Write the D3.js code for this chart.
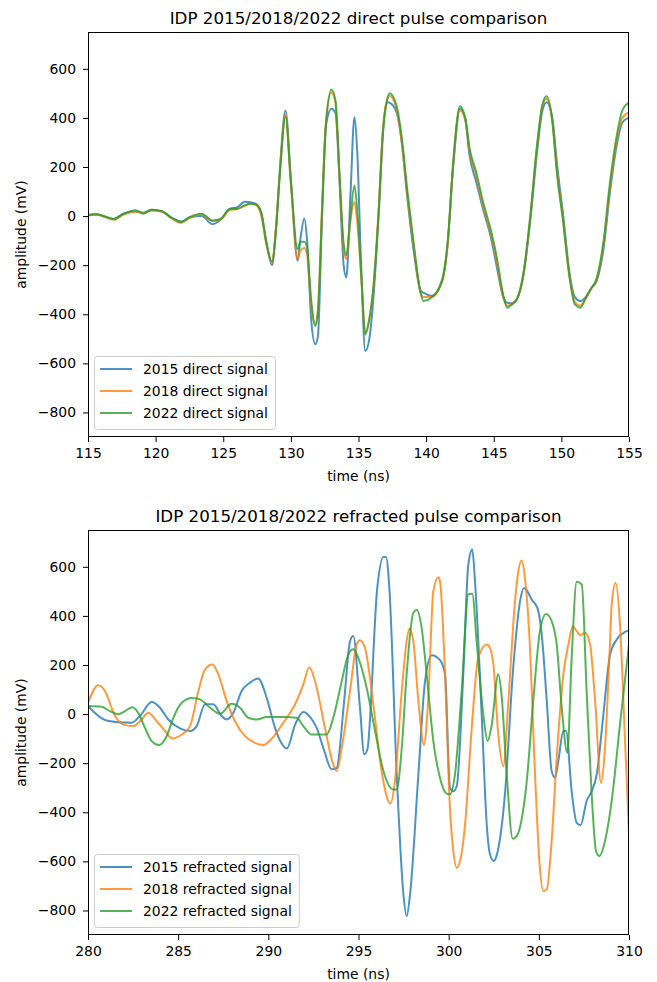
<!DOCTYPE html>
<html>
<head>
<meta charset="utf-8">
<script src="https://cdn.jsdelivr.net/npm/d3@7"></script>
<style>
  body { margin: 0; background: #fff; }
  text { font-family: "DejaVu Sans", sans-serif; fill: #000; }
</style>
</head>
<body>
<svg id="chart" width="657" height="982"></svg>
<script>
"use strict";

// ---- direct pulse (top panel), shared time base ----
var directTime = [115.0, 115.6, 116.2, 116.9, 117.6, 118.5, 119.1, 119.7, 120.5, 121.1, 121.9, 122.5, 123.4, 124.2, 124.8,
  125.5, 126.0, 126.6, 127.0, 127.4, 127.8, 128.2, 128.6, 128.9, 129.2, 129.6, 130.0, 130.5, 130.7, 131.0, 131.2, 131.5,
  131.8, 132.0, 132.3, 132.6, 133.0, 133.3, 133.6, 133.9, 134.1, 134.4, 134.7, 134.9, 135.2, 135.5, 135.8, 136.1, 136.5,
  136.8, 137.1, 137.3, 137.8, 138.2, 138.6, 139.1, 139.6, 139.8, 140.4, 141.2, 141.6, 142.0, 142.5, 142.9, 143.2, 143.7,
  144.2, 144.8, 145.2, 145.7, 146.0, 146.3, 146.7, 147.2, 147.7, 148.2, 148.6, 148.9, 149.3, 149.7, 150.1, 150.6, 151.0,
  151.4, 151.8, 152.2, 152.6, 153.1, 153.6, 154.1, 154.5, 155.0];

var direct2015 = [3, 8, -2, -12, 10, 20, 14, 26, 18, -4, -22, -6, 0, -33, -15,
  30, 35, 58, 56, 50, 15, -110, -200, -50, 200, 430, 150, -182, -95, -10, -100, -420,
  -522, -490, -5, 370, 437, 420, 140, -200, -250, 80, 403, 270, -210, -550, -500, -335, 20,
  340, 464, 462, 425, 300, 80, -150, -305, -312, -325, -262, -110, 200, 437, 390, 250, 140,
  30, -90, -200, -330, -353, -355, -338, -240, -20, 260, 430, 464, 410, 200, 20, -230, -330,
  -346, -330, -295, -265, -140, 100, 290, 380, 402];

var direct2018 = [2, 5, -3, -15, 5, 18, 12, 22, 18, -6, -28, -8, 6, -20, -14,
  25, 28, 42, 50, 46, 5, -120, -190, -40, 190, 415, 130, -175, -140, -130, -160, -360,
  -440, -380, 30, 390, 505, 460, 150, -130, -175, -20, 57, -20, -250, -475, -420, -290, 40,
  350, 470, 490, 440, 300, 90, -130, -315, -330, -330, -262, -110, 210, 430, 395, 270, 165,
  45, -75, -180, -330, -365, -360, -340, -235, -5, 280, 450, 478, 400, 170, 0, -240, -350,
  -365, -335, -295, -260, -120, 120, 310, 400, 423];

var direct2022 = [5, 8, 0, -12, 8, 24, 10, 26, 20, -4, -24, -4, 10, -18, -12,
  29, 29, 44, 50, 48, 15, -110, -185, -60, 180, 405, 140, -135, -105, -105, -130, -340,
  -448, -390, 10, 380, 516, 470, 170, -110, -160, -5, 125, 30, -230, -482, -420, -290, 20,
  330, 470, 500, 452, 320, 110, -120, -315, -346, -332, -255, -100, 220, 448, 400, 280, 180,
  60, -60, -160, -320, -373, -362, -340, -230, 0, 290, 455, 488, 400, 160, -10, -250, -360,
  -373, -335, -295, -255, -110, 140, 330, 430, 462];

// ---- refracted pulse (bottom panel) ----
var refr2015Time = [280.00, 280.94, 281.68, 282.42, 282.88, 283.53, 283.99, 284.45, 285.10, 285.66, 286.03, 286.49,
  286.95, 287.41, 287.69, 288.06, 288.52, 288.98, 289.44, 289.91, 290.37, 290.70, 291.02, 291.50, 291.94, 292.30,
  292.68, 293.10, 293.51, 293.79, 294.20, 294.53, 294.71, 295.08, 295.32, 295.49, 296.04, 296.38, 296.53, 296.71,
  297.12, 297.49, 297.67, 297.86, 298.32, 298.69, 299.06, 299.52, 299.80, 300.07, 300.26, 300.45, 300.81, 301.09,
  301.31, 301.46, 301.83, 302.11, 302.29, 302.51, 302.70, 303.12, 303.58, 303.96, 304.18, 304.36, 304.60, 304.92,
  305.16, 305.44, 305.71, 305.90, 306.08, 306.36, 306.51, 306.82, 307.10, 307.32, 307.65, 307.93, 308.21, 308.58,
  308.95, 309.32, 309.78, 310.02];
var refr2015 = [33, -24, -33, -35, -8, 49, 26, -22, -58, -69, -49, 40,
  40, -8, -22, 5, 94, 128, 145, 66, -56, -115, -140, -40, 9, -10,
  -56, -150, -225, -219, 50, 297, 318, 26, -164, -144, 514, 640, 640, 514,
  -246, -734, -823, -734, -246, 134, 240, 220, 162, -300, -314, -293, 162, 610,
  671, 542, -1, -449, -571, -599, -565, -327, 189, 460, 514, 501, 467, 433,
  325, 53, -232, -259, -191, -69, -69, -314, -443, -452, -354, -314, -246, -1,
  243, 304, 335, 341];

var refr2018Time = [280.00, 280.57, 280.94, 281.50, 282.05, 282.51, 282.98, 283.34, 283.81, 284.27, 284.67, 285.20,
  285.66, 286.12, 286.49, 286.89, 287.23, 287.69, 288.15, 288.71, 289.26, 289.72, 290.19, 290.83, 291.48, 291.94,
  292.27, 292.59, 293.14, 293.60, 293.79, 294.07, 294.53, 294.90, 295.08, 295.36, 295.82, 296.28, 296.65, 296.78,
  297.02, 297.40, 297.67, 297.82, 298.04, 298.32, 298.63, 298.87, 299.15, 299.43, 299.52, 299.80, 300.07, 300.26,
  300.45, 300.63, 300.91, 301.28, 301.64, 302.11, 302.29, 302.48, 302.75, 303.03, 303.31, 303.68, 303.86, 304.05,
  304.23, 304.47, 304.79, 305.03, 305.25, 305.44, 305.71, 305.99, 306.36, 306.64, 306.88, 307.10, 307.28, 307.56,
  307.84, 308.11, 308.45, 308.67, 308.95, 309.04, 309.26, 309.50, 309.78, 310.02];
var refr2018 = [46, 118, 94, -8, -45, -49, -22, 5, -29, -69, -99, -83,
  -49, 94, 182, 202, 162, 53, -29, -90, -117, -126, -100, -35, 40, 121,
  191, 134, -56, -205, -232, -137, 94, 284, 301, 270, 40, -232, -354, -364,
  -273, 94, 297, 349, 297, 53, -126, 66, 501, 558, 542, 162, -382, -558,
  -626, -599, -449, -56, 229, 284, 270, 202, -83, -212, 53, 460, 582, 626,
  555, 325, -246, -599, -721, -714, -517, -178, 162, 284, 358, 338, 321, 331,
  284, 66, -280, -137, 297, 447, 535, 365, -110, -517];

var refr2022Time = [280.00, 280.76, 281.22, 281.68, 282.05, 282.46, 282.79, 283.16, 283.53, 283.94, 284.36, 284.73,
  285.20, 285.75, 286.21, 286.77, 287.32, 287.97, 288.43, 288.89, 289.36, 289.91, 290.89, 291.57, 291.94, 292.40,
  293.24, 293.60, 294.07, 294.44, 294.71, 294.99, 295.45, 295.92, 296.38, 296.93, 297.12, 297.40, 297.67, 298.04,
  298.23, 298.50, 298.78, 299.15, 299.52, 299.89, 300.07, 300.35, 300.72, 301.09, 301.31, 301.55, 301.92, 302.16,
  302.39, 302.75, 302.93, 303.22, 303.55, 303.77, 304.33, 304.69, 305.06, 305.40, 305.71, 305.99, 306.27, 306.58,
  306.82, 307.10, 307.38, 307.65, 307.93, 308.17, 308.36, 308.67, 309.04, 309.50, 310.02];
var refr2022 = [33, 30, 12, -1, 12, 28, 5, -56, -110, -126, -90, -15,
  46, 66, 60, 26, 1, 42, 26, -15, -22, -12, -12, -15, -49, -83,
  -83, -15, 134, 243, 264, 229, 107, -69, -232, -307, -307, -137, 162, 413,
  424, 352, 162, -110, -260, -324, -327, -246, 94, 488, 490, 297, -1, -110,
  -42, 162, 80, -246, -508, -497, -273, 53, 338, 408, 379, 284, 26, -158,
  229, 539, 528, 94, -327, -558, -578, -517, -354, -42, 297];

var yTicks = [-800, -600, -400, -200, 0, 200, 400, 600];
var directTicks = [115, 120, 125, 130, 135, 140, 145, 150, 155];
var refrTicks = [280, 285, 290, 295, 300, 305, 310];
var colors = ["#1f77b4", "#ff7f0e", "#2ca02c"];

function zip(t, v) {
  return t.map(function(d, i) { return {t: d, v: v[i]}; });
}

var svg = d3.select("#chart");
var margin = {left: 88, right: 28};
var width = 657 - margin.left - margin.right;

function drawPanel(p) {
  var height = p.bottom - p.top;
  var g = svg.append("g").attr("transform", "translate(" + margin.left + "," + p.top + ")");

  var x = d3.scaleLinear().domain(p.xDomain).range([0, width]);
  var y = d3.scaleLinear().domain([-900, 750]).range([height, 0]);

  g.append("clipPath").attr("id", p.id)
    .append("rect").attr("width", width).attr("height", height);

  var line = d3.line()
      .curve(d3.curveMonotoneX)
      .x(function(d) { return x(d.t); })
      .y(function(d) { return y(d.v); });

  var lines = g.append("g").attr("clip-path", "url(#" + p.id + ")");
  p.series.forEach(function(s, i) {
    lines.append("path")
        .datum(s.data)
        .attr("fill", "none")
        .attr("stroke", colors[i])
        .attr("stroke-opacity", 0.8)
        .attr("stroke-width", 2)
        .attr("stroke-linejoin", "round")
        .attr("d", line);
  });

  var xAxis = g.append("g")
      .attr("transform", "translate(0," + height + ")")
      .call(d3.axisBottom(x).tickValues(p.ticks).tickSizeInner(5).tickSizeOuter(0).tickPadding(6));
  var yAxis = g.append("g")
      .call(d3.axisLeft(y).tickValues(yTicks).tickSizeInner(5).tickSizeOuter(0).tickPadding(7));
  [xAxis, yAxis].forEach(function(a) {
    a.select(".domain").remove();
    a.selectAll("text").style("font-size", "13.9px").attr("fill", "#000");
    a.selectAll("line").attr("stroke", "#000").attr("stroke-width", 1);
  });

  g.append("rect")
      .attr("x", 0.5).attr("y", 0.5)
      .attr("width", width - 1).attr("height", height - 1)
      .attr("fill", "none").attr("stroke", "#000").attr("stroke-width", 1);

  g.append("text")
      .attr("x", width / 2).attr("y", -8.5)
      .attr("text-anchor", "middle")
      .style("font-size", "16.7px")
      .text(p.title);

  g.append("text")
      .attr("x", width / 2).attr("y", height + 44)
      .attr("text-anchor", "middle")
      .style("font-size", "13.9px")
      .text("time (ns)");

  g.append("text")
      .attr("transform", "translate(" + (26 - margin.left) + "," + (height / 2) + ") rotate(-90)")
      .attr("text-anchor", "middle")
      .style("font-size", "13.9px")
      .text("amplitude (mV)");

  // legend, lower left
  var leg = g.append("g").attr("transform", "translate(6," + (height - 81) + ")");
  var box = leg.append("rect")
      .attr("x", 0.5).attr("y", 0.5).attr("height", 73)
      .attr("rx", 3)
      .attr("fill", "#fff").attr("fill-opacity", 0.8)
      .attr("stroke", "#ccc").attr("stroke-width", 1);
  var maxW = 0;
  p.series.forEach(function(s, i) {
    var cy = 13 + i * 22;
    leg.append("line")
        .attr("x1", 6).attr("x2", 38).attr("y1", cy).attr("y2", cy)
        .attr("stroke", colors[i]).attr("stroke-opacity", 0.8).attr("stroke-width", 2);
    var t = leg.append("text")
        .attr("x", 49).attr("y", cy).attr("dy", "0.35em")
        .style("font-size", "13.9px")
        .text(s.label);
    maxW = Math.max(maxW, t.node().getComputedTextLength());
  });
  box.attr("width", 49 + maxW + 7);
}

drawPanel({
  id: "clipDirect", top: 32, bottom: 437,
  xDomain: [115, 155], ticks: directTicks,
  title: "IDP 2015/2018/2022 direct pulse comparison",
  series: [
    {label: "2015 direct signal", data: zip(directTime, direct2015)},
    {label: "2018 direct signal", data: zip(directTime, direct2018)},
    {label: "2022 direct signal", data: zip(directTime, direct2022)}
  ]
});

drawPanel({
  id: "clipRefr", top: 530, bottom: 935,
  xDomain: [280, 310], ticks: refrTicks,
  title: "IDP 2015/2018/2022 refracted pulse comparison",
  series: [
    {label: "2015 refracted signal", data: zip(refr2015Time, refr2015)},
    {label: "2018 refracted signal", data: zip(refr2018Time, refr2018)},
    {label: "2022 refracted signal", data: zip(refr2022Time, refr2022)}
  ]
});
</script>
</body>
</html>
